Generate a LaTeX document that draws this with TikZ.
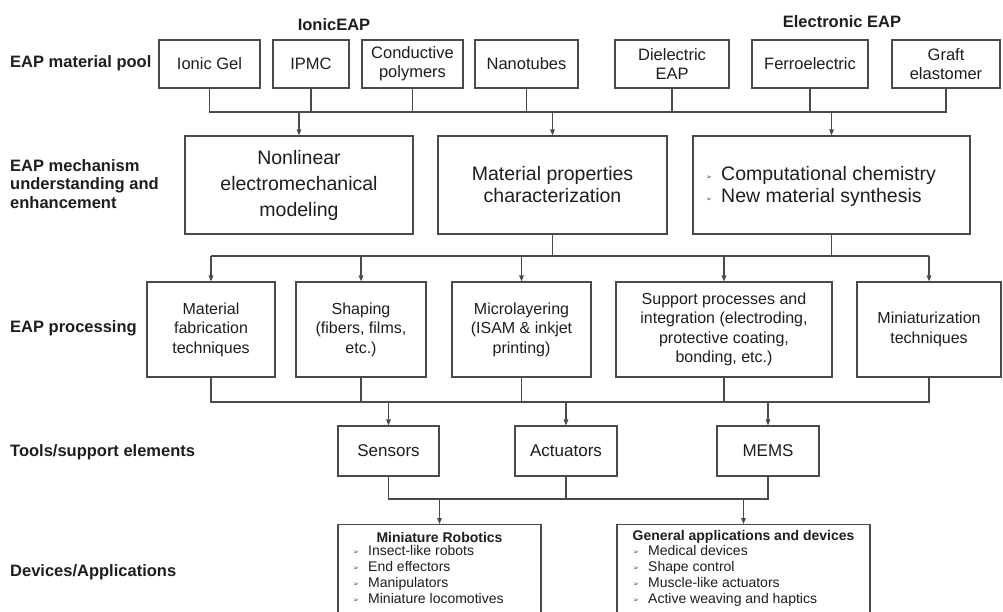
\documentclass[tikz,border=0pt]{standalone}
\usepackage{fontspec}
\setmainfont{Liberation Sans}
\newfontfamily\symf{DejaVu Sans}
\usetikzlibrary{arrows.meta}
\definecolor{ink}{HTML}{1E1E1E}
\definecolor{edge}{HTML}{4A4A4A}
\newcommand\mybul{\makebox[15pt][l]{\raisebox{1pt}{\symf\fontsize{7}{7}\selectfont\color{edge}➢}}}
\tikzset{
  box/.style={draw=edge, line width=1.1pt, inner sep=0pt, align=center, text=ink},
  ln/.style={draw=edge, line width=1.1pt},
  arr/.style={ln, -{Triangle[length=6pt,width=4.5pt]}},
  lbl/.style={anchor=west, align=left, text=ink, inner sep=0pt, font=\fontsize{16.5}{18.5}\selectfont\bfseries},
  fA/.style={font=\fontsize{16.5}{19}\selectfont},
  fB/.style={font=\fontsize{19.5}{26}\selectfont},
  fBB/.style={font=\fontsize{19.5}{22}\selectfont},
  fC/.style={font=\fontsize{16}{19.5}\selectfont},
  fD/.style={font=\fontsize{17}{20}\selectfont},
  fE/.style={font=\fontsize{14}{16}\selectfont},
}
\begin{document}
\begin{tikzpicture}[x=1pt,y=-1pt]
\useasboundingbox[fill=white] (0,0) rectangle (1003,611);

% group labels
\node[text=ink, font=\fontsize{16.5}{19}\selectfont\bfseries] (ionic) at (334,25) {IonicEAP};
\node[text=ink, font=\fontsize{16.5}{19}\selectfont\bfseries] (electronic) at (842,22) {Electronic EAP};

% row labels
\node[lbl] (L1) at (10,63) {EAP material pool};
\node[lbl] (L2) at (10,184) {EAP mechanism\\understanding and\\enhancement};
\node[lbl] (L3) at (10,328) {EAP processing};
\node[lbl] (L4) at (10,452) {Tools/support elements};
\node[lbl] (L5) at (10,572) {Devices/Applications};

% row 1
\node[box,fA,minimum width=101pt,minimum height=48pt] (ionicgel) at (209.5,64) {Ionic Gel};
\node[box,fA,minimum width=76pt,minimum height=48pt] (ipmc) at (311,64) {IPMC};
\node[box,fA,minimum width=101pt,minimum height=48pt] (conductive) at (412.5,64) {Conductive\\polymers};
\node[box,fA,minimum width=103pt,minimum height=48pt] (nanotubes) at (526.5,64) {Nanotubes};
\node[box,fA,minimum width=114pt,minimum height=48pt] (dielectric) at (672,64) {Dielectric\\EAP};
\node[box,fA,minimum width=116pt,minimum height=48pt] (ferro) at (810,64) {Ferroelectric};
\node[box,fA,minimum width=108pt,minimum height=48pt] (graft) at (946,64) {Graft\\elastomer};

% row 2
\node[box,fB,minimum width=228pt,minimum height=98pt] (nonlinear) at (299,185) {Nonlinear\\electromechanical\\modeling};
\node[box,fBB,minimum width=229pt,minimum height=98pt] (matprop) at (552.5,185) {Material properties\\characterization};
\node[box,minimum width=277pt,minimum height=98pt] (comp) at (831.5,185) {};
\node[anchor=west, align=left, text=ink, inner sep=0pt, fBB] (comptext) at (706,186) {\mybul Computational chemistry\\\mybul New material synthesis};

% row 3
\node[box,fC,minimum width=128pt,minimum height=95pt] (matfab) at (211,329.5) {Material\\fabrication\\techniques};
\node[box,fC,minimum width=130pt,minimum height=95pt] (shaping) at (361,329.5) {Shaping\\(fibers, films,\\etc.)};
\node[box,fC,minimum width=139pt,minimum height=95pt] (micro) at (521.5,329.5) {Microlayering\\(ISAM \& inkjet\\printing)};
\node[box,fC,minimum width=216pt,minimum height=95pt] (support) at (724,329.5) {Support processes and\\integration (electroding,\\protective coating,\\bonding, etc.)};
\node[box,fC,minimum width=144pt,minimum height=95pt] (mini) at (929,329.5) {Miniaturization\\techniques};

% row 4
\node[box,fD,minimum width=101pt,minimum height=50pt] (sensors) at (388.5,451) {Sensors};
\node[box,fD,minimum width=102pt,minimum height=50pt] (actuators) at (566,451) {Actuators};
\node[box,fD,minimum width=102pt,minimum height=50pt] (mems) at (768,451) {MEMS};

% row 5
\node[box,minimum width=203pt,minimum height=110pt,anchor=north] (robotics) at (439.5,524) {};
\node[box,minimum width=253pt,minimum height=110pt,anchor=north] (general) at (743.5,524) {};
\node[text=ink, inner sep=0pt, font=\fontsize{14}{16}\selectfont\bfseries] (robtitle) at (439.5,537) {Miniature Robotics};
\node[anchor=north west, align=left, text=ink, inner sep=0pt, fE] (robitems) at (353,545.5) {\mybul Insect-like robots\\\mybul End effectors\\\mybul Manipulators\\\mybul Miniature locomotives};
\node[text=ink, inner sep=0pt, font=\fontsize{14}{16}\selectfont\bfseries] (gentitle) at (743.5,537) {General applications and devices};
\node[anchor=north west, align=left, text=ink, inner sep=0pt, fE] (genitems) at (633,545.5) {\mybul Medical devices\\\mybul Shape control\\\mybul Muscle-like actuators\\\mybul Active weaving and haptics};

% connectors row 1 -> row 2
\coordinate (b1) at (0,112);
\draw[ln] (ionicgel.south) -- (ionicgel.south |- b1) -- (graft.south |- b1) -- (graft.south);
\foreach \n in {ipmc,conductive,nanotubes,dielectric,ferro}
  \draw[ln] (\n.south) -- (\n.south |- b1);
\foreach \n in {nonlinear,matprop,comp}
  \draw[arr] (\n.north |- b1) -- (\n.north);

% row 2 -> row 3
\coordinate (b2) at (0,256);
\draw[ln] (matprop.south) -- (matprop.south |- b2);
\draw[ln] (comp.south) -- (comp.south |- b2);
\draw[ln] (matfab.north |- b2) -- (mini.north |- b2);
\foreach \n in {matfab,shaping,micro,support,mini}
  \draw[arr] (\n.north |- b2) -- (\n.north);

% row 3 -> row 4
\coordinate (b3) at (0,402);
\draw[ln] (matfab.south) -- (matfab.south |- b3) -- (mini.south |- b3) -- (mini.south);
\foreach \n in {shaping,micro,support}
  \draw[ln] (\n.south) -- (\n.south |- b3);
\foreach \n in {sensors,actuators,mems}
  \draw[arr] (\n.north |- b3) -- (\n.north);

% row 4 -> row 5
\coordinate (b4) at (0,499);
\draw[ln] (sensors.south) -- (sensors.south |- b4) -- (mems.south |- b4) -- (mems.south);
\draw[ln] (actuators.south) -- (actuators.south |- b4);
\foreach \n in {robotics,general}
  \draw[arr] (\n.north |- b4) -- (\n.north);
\end{tikzpicture}
\end{document}
